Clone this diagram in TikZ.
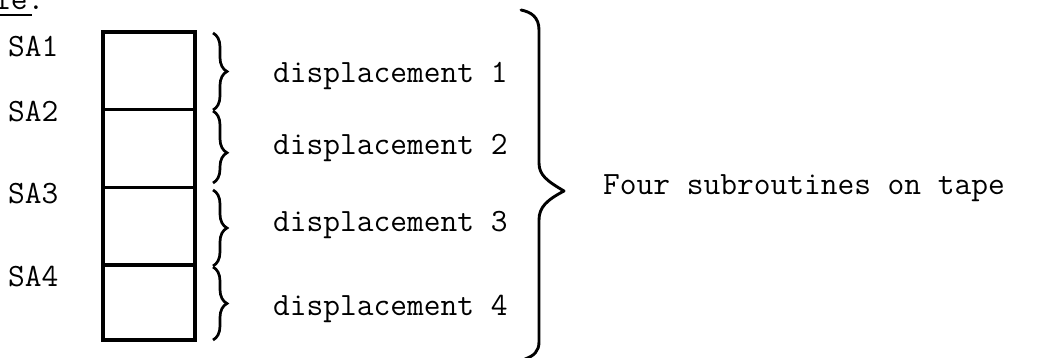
\documentclass[tikz,border=0pt]{standalone}
\usepackage{fontspec}
\usetikzlibrary{decorations.pathreplacing}
\begin{document}
\begin{tikzpicture}[x=1pt,y=-1pt,
  txt/.style={font=\ttfamily\fontsize{32.5}{39}\selectfont, anchor=base west, inner sep=0pt},
  tapebox/.style={draw, line width=3.2pt, minimum width=92pt, minimum height=308pt,
    anchor=north west, inner sep=0pt, outer sep=0pt},
  divider/.style={line width=3pt},
  smallbrace/.style={decorate, decoration={brace, amplitude=14pt, aspect=#1}, line width=2.7pt},
  smallbrace/.default=0.5,
  bigline/.style={line width=2.9pt, line cap=round, line join=round}]
  \clip (0,0) rectangle (1047,358);
  \fill[white] (0,0) rectangle (1047,358);

  % heading fragment
  \node[txt] (hd) at (-6,10) {le:};
  \draw[line width=2.4pt] (0,15) -- (32,15);

  % the tape, split into four subroutine cells
  \node[tapebox] (tape) at (103,32) {};
  \draw[divider] ([yshift=-78pt]tape.north west) -- ([yshift=-78pt]tape.north east);
  \draw[divider] ([yshift=-156pt]tape.north west) -- ([yshift=-156pt]tape.north east);
  \draw[divider] ([yshift=-233pt]tape.north west) -- ([yshift=-233pt]tape.north east);

  % start addresses
  \node[txt] (sa1) at (8,57) {SA1};
  \node[txt] (sa2) at (8,122) {SA2};
  \node[txt] (sa3) at (8,204) {SA3};
  \node[txt] (sa4) at (8,287) {SA4};

  % braces for each subroutine
  \coordinate (b1t) at (213,33);  \coordinate (b1b) at (213,110);
  \coordinate (b2t) at (213,111); \coordinate (b2b) at (213,183);
  \coordinate (b3t) at (213,190); \coordinate (b3b) at (213,266);
  \coordinate (b4t) at (213,267); \coordinate (b4b) at (213,340);
  \draw[smallbrace] (b1t) -- (b1b);
  \draw[smallbrace=0.58] (b2t) -- (b2b);
  \draw[smallbrace] (b3t) -- (b3b);
  \draw[smallbrace] (b4t) -- (b4b);

  % displacements
  \node[txt] (d1) at (273,83) {displacement 1};
  \node[txt] (d2) at (273,155) {displacement 2};
  \node[txt] (d3) at (273,232) {displacement 3};
  \node[txt] (d4) at (273,315) {displacement 4};

  % overall brace
  \coordinate (bt) at (521,10);
  \coordinate (tip) at (564,191);
  \coordinate (bb) at (525,359);
  \draw[bigline] (bt) .. controls (531,12) and (539,17) .. (539,30) -- (539,163)
    .. controls (539,175) and (547,181) .. (tip)
    .. controls (547,200) and (539,207) .. (539,220) -- (539,342)
    .. controls (539,351) and (534,356) .. (bb);
  \node[txt] (four) at (603,195) {Four subroutines on tape};
\end{tikzpicture}
\end{document}
